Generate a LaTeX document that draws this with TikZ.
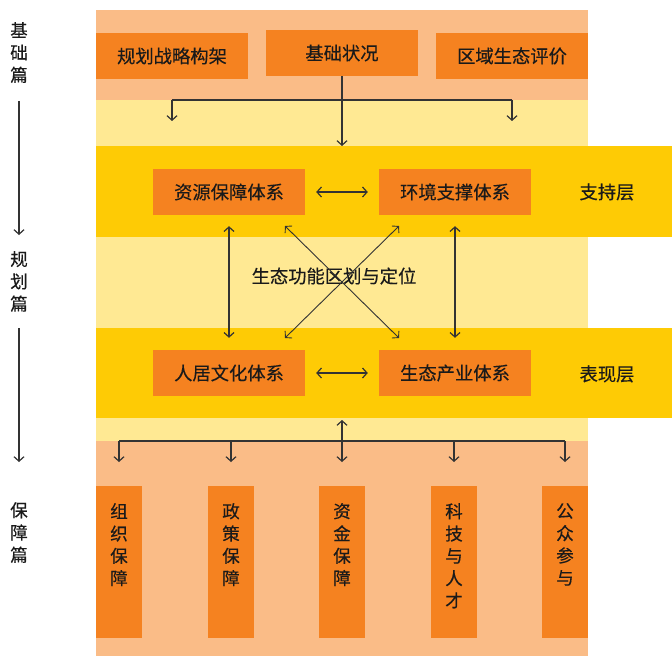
\documentclass[tikz,border=0pt]{standalone}
\usepackage{fontspec}
\setmainfont{Noto Sans CJK SC}[FakeBold=0.3]
\usetikzlibrary{arrows.meta}
\definecolor{peach}{HTML}{FABC87}
\definecolor{lyellow}{HTML}{FFE993}
\definecolor{gold}{HTML}{FECB05}
\definecolor{orng}{HTML}{F58220}
\definecolor{ink}{HTML}{1A1A1A}
\definecolor{ln}{HTML}{333333}
\begin{document}
\begin{tikzpicture}[x=1bp,y=-1bp,
  box/.style={fill=orng,minimum width=152bp,minimum height=46bp,inner sep=0pt,text=ink,font=\fontsize{18.3bp}{20bp}\selectfont},
  vbox/.style={fill=orng,minimum width=46bp,minimum height=152bp,inner sep=0pt},
  vtext/.style={anchor=north,align=center,inner sep=0pt,text=ink,font=\fontsize{17.5bp}{22.3bp}\selectfont},
  lbl/.style={text=ink,inner sep=0pt,font=\fontsize{18.3bp}{20bp}\selectfont},
  conn/.style={draw=ln,line width=1.2bp},
  arr/.style={conn,-{Straight Barb[length=4.5bp,width=10bp]}},
  darr/.style={conn,{Straight Barb[length=4.5bp,width=10bp]}-{Straight Barb[length=4.5bp,width=10bp]}}
]
\useasboundingbox (0,0) rectangle (672,656);
% bands
\fill[peach] (96,10) rectangle (588,100);
\fill[lyellow] (96,100) rectangle (588,146);
\fill[gold] (96,146) rectangle (672,237);
\fill[lyellow] (96,237) rectangle (588,328);
\fill[gold] (96,328) rectangle (672,418);
\fill[lyellow] (96,418) rectangle (588,441);
\fill[peach] (96,441) rectangle (588,656);
% top boxes
\node[box] (b1) at (172,56) {规划战略构架};
\node[box] (b2) at (342,53) {基础状况};
\node[box] (b3) at (512,56) {区域生态评价};
% support layer
\node[box] (r1) at (229,192) {资源保障体系};
\node[box] (r2) at (455,192) {环境支撑体系};
\node[lbl] (s) at (607,192) {支持层};
% expression layer
\node[box] (p1) at (229,373) {人居文化体系};
\node[box] (p2) at (455,373) {生态产业体系};
\node[lbl] (e) at (607,374) {表现层};
\node[lbl] (mid) at (334,276) {生态功能区划与定位};
% bottom boxes
\foreach \n/\x/\t in {g1/119/{组\\织\\保\\障},g2/231/{政\\策\\保\\障},g3/342/{资\\金\\保\\障},g4/454/{科\\技\\与\\人\\才},g5/565/{公\\众\\参\\与}}{
  \node[vbox] (\n) at (\x,562) {};
  \node[vtext] at (\x,503) {\t};
}
% left labels
\node[vtext] (l1) at (19,22) {基\\础\\篇};
\node[vtext] (l2) at (19,251) {规\\划\\篇};
\node[vtext] (l3) at (19,502) {保\\障\\篇};
\coordinate (la1) at (19,101); \coordinate (la2) at (19,235);
\coordinate (lb1) at (19,328); \coordinate (lb2) at (19,462);
\draw[arr] (la1) -- (la2);
\draw[arr] (lb1) -- (lb2);
% top connectors
\coordinate (t1) at (172,100); \coordinate (t3) at (512,100);
\coordinate (t1e) at (172,121); \coordinate (t3e) at (512,121);
\coordinate (t2e) at (342,146);
\draw[conn] (t1) -- (t3);
\draw[arr] (t1) -- (t1e);
\draw[arr] (t3) -- (t3e);
\draw[arr] (b2.south) -- (t2e);
% horizontal double arrows
\draw[darr] ([xshift=11bp]r1.east) -- ([xshift=-11bp]r2.west);
\draw[darr] ([xshift=11bp]p1.east) -- ([xshift=-11bp]p2.west);
% vertical double arrows
\draw[darr] ([yshift=-11bp]r1.south) -- ([yshift=12bp]p1.north);
\draw[darr] ([yshift=-11bp]r2.south) -- ([yshift=12bp]p2.north);
% cross
\coordinate (c1) at (285,226); \coordinate (c2) at (399,226);
\coordinate (c3) at (285,338); \coordinate (c4) at (399,338);
\draw[darr,line width=0.9bp] (c1) -- (c4);
\draw[darr,line width=0.9bp] (c2) -- (c3);
% bottom connectors
\coordinate (u1) at (342,420); \coordinate (u2) at (342,462);
\draw[darr] (u1) -- (u2);
\coordinate (h1) at (119,441); \coordinate (h5) at (565,441);
\draw[conn] (h1) -- (h5);
\foreach \x in {119,231,454,565}{
  \draw[arr] (\x,441) -- (\x,462);
}
\end{tikzpicture}
\end{document}
